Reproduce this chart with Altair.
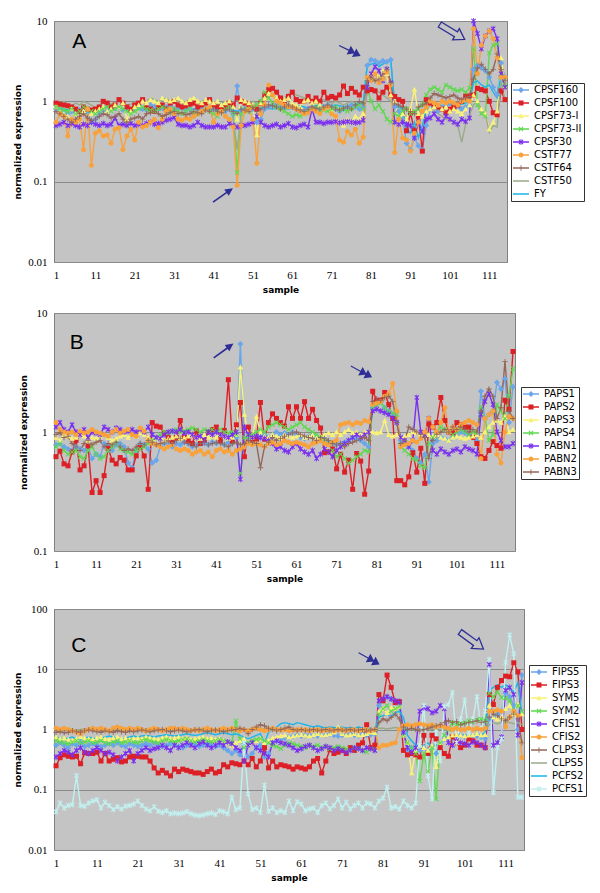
import altair as alt
import pandas as pd

N = 115
samples = list(range(1, N + 1))
x_ticks = list(range(1, N, 10))

# ---------------- Panel A ----------------
a_names = ["CPSF160", "CPSF100", "CPSF73-I", "CPSF73-II", "CPSF30", "CSTF77", "CSTF64", "CSTF50", "FY"]
a_colors = ["#6aa6ea", "#dd1f26", "#f8f27a", "#5fd94f", "#7a2ef0", "#f9a13a", "#94675a", "#99aa88", "#1ab6ea"]
a_markers = ["diamond", "square", "triangle", "xmark", "star", "circle", "plus", "none", "none"]

cpsf160 = [
0.80,0.78,0.72,0.70,0.75,0.72,0.78,0.80,0.74,0.55,
0.60,0.72,0.78,0.75,0.80,0.82,0.85,0.78,0.80,0.75,
0.82,0.85,0.80,0.78,0.90,0.85,0.80,0.82,0.85,0.88,
0.80,0.82,0.85,0.78,0.80,0.65,0.80,0.85,0.82,0.80,
0.80,0.85,0.78,0.75,0.80,0.70,1.55,0.75,0.80,0.85,
0.80,0.55,0.60,0.80,0.85,0.90,0.95,0.90,0.85,0.88,
0.85,0.80,0.78,0.75,0.80,0.85,0.82,0.80,0.85,0.90,
0.85,0.80,0.75,0.80,0.85,0.90,0.85,0.80,0.85,2.8,
3.3,3.2,3.0,3.2,3.1,3.3,0.85,0.75,0.60,0.30,
0.25,0.35,0.28,0.25,0.50,0.80,0.85,0.75,0.85,0.90,
0.95,0.90,0.85,0.80,0.85,0.90,2.5,2.8,2.6,2.4,
2.0,1.5,1.2,3.0,2.0]
cpsf100 = [
0.95,0.92,0.90,0.88,0.85,0.80,0.75,0.85,0.80,0.78,
0.80,0.85,1.00,0.95,0.85,0.90,1.05,0.95,0.85,0.80,
0.90,0.95,1.05,0.85,0.80,0.75,0.85,0.90,0.80,0.95,
1.00,0.90,0.85,0.88,0.92,0.95,0.85,0.90,0.95,1.05,
0.90,0.85,0.80,0.85,0.95,0.90,1.10,1.00,0.95,0.90,
0.85,0.80,0.95,1.20,1.40,1.45,1.30,1.10,1.00,1.15,
1.30,1.05,1.00,1.00,1.15,1.00,1.10,1.00,1.30,1.10,
1.15,1.10,1.20,1.55,1.25,1.45,1.30,1.20,1.50,1.35,
1.40,1.35,1.10,1.30,1.50,1.20,1.15,1.05,1.00,0.43,
0.72,0.43,0.64,0.24,1.05,0.95,0.90,0.85,0.80,0.72,
0.80,0.85,0.90,1.00,1.17,1.17,1.20,1.45,1.40,1.35,
1.00,0.72,0.68,1.35,1.05]
cpsf73i = [
0.85,0.75,0.70,0.65,0.80,0.70,0.60,0.75,0.80,0.70,
0.75,0.80,0.85,0.75,0.80,0.90,0.85,0.95,0.60,0.75,
0.85,0.90,1.00,0.95,1.05,1.00,0.95,1.10,1.05,1.00,
1.05,1.10,1.00,0.95,1.05,1.10,1.00,0.95,1.05,1.00,
0.95,1.00,0.90,0.95,1.00,0.85,0.60,1.05,1.00,0.95,
0.90,0.38,0.95,1.10,1.25,1.20,1.10,1.00,1.05,1.10,
0.95,0.90,0.85,1.00,1.05,0.95,1.00,0.90,0.80,0.85,
0.80,0.60,0.55,0.50,0.60,0.55,0.65,0.60,0.70,2.0,
2.2,2.3,2.0,2.4,2.2,1.2,1.0,0.55,0.70,0.60,
0.80,1.40,0.70,0.65,0.75,0.80,0.85,0.90,0.80,0.85,
0.75,0.80,0.75,0.70,0.80,0.90,1.20,1.00,0.80,0.70,
0.45,0.55,0.75,3.5,1.5]
cpsf73ii = [
0.85,0.80,0.78,0.75,0.80,0.70,0.75,0.85,0.80,0.75,
0.70,0.75,0.80,0.85,0.75,0.80,0.85,0.80,0.75,0.70,
0.75,0.80,0.85,0.80,0.78,0.75,0.80,0.85,0.80,0.75,
0.80,0.75,0.70,0.75,0.80,0.72,0.70,0.75,0.80,0.75,
0.70,0.65,0.75,0.80,0.85,0.70,0.13,0.70,0.80,0.75,
0.85,0.90,1.00,1.30,1.10,0.95,0.85,0.80,0.75,0.70,
0.65,0.68,0.65,0.70,0.75,0.80,0.85,0.80,0.78,0.75,
0.80,0.85,0.78,0.80,0.75,0.80,0.85,0.90,0.80,1.50,
1.00,0.80,0.90,0.75,0.60,0.55,0.70,0.65,0.75,0.80,
0.70,0.75,0.80,0.90,1.20,1.40,1.50,1.40,1.30,1.60,
1.50,1.40,1.35,1.40,1.30,1.45,4.5,0.90,0.70,0.65,
4.0,5.0,5.2,2.0,1.6]
cpsf30 = [
0.50,0.52,0.55,0.50,0.53,0.50,0.48,0.52,0.50,0.55,
0.52,0.50,0.53,0.50,0.52,0.62,0.50,0.52,0.50,0.53,
0.50,0.52,0.50,0.53,0.55,0.52,0.53,0.55,0.58,0.60,
0.63,0.52,0.50,0.50,0.48,0.50,0.55,0.50,0.48,0.48,
0.48,0.50,0.48,0.48,0.53,0.50,0.48,0.50,0.50,0.52,
0.55,0.65,0.55,0.50,0.48,0.50,0.52,0.48,0.50,0.53,
0.48,0.47,0.50,0.52,0.48,0.80,0.55,0.55,0.53,0.55,
0.55,0.56,0.54,0.55,0.56,0.55,0.54,0.55,0.58,1.5,
2.2,2.7,2.4,1.8,2.5,1.7,0.55,0.52,0.55,0.52,
0.50,0.35,0.55,0.42,0.60,0.62,0.70,0.60,0.55,0.65,
0.60,0.55,0.52,0.60,0.56,0.62,10.0,7.0,4.5,6.5,
7.5,8.0,6.0,2.2,1.5]
cstf77 = [
0.55,0.70,0.65,0.37,0.60,0.55,0.60,0.25,0.80,0.16,
0.40,0.43,0.37,0.38,0.30,0.45,0.47,0.25,0.37,0.45,
0.33,0.55,0.48,0.50,0.55,0.60,0.47,0.60,0.75,0.80,
0.70,0.60,0.58,0.62,0.60,0.65,0.70,0.75,0.80,0.85,
0.55,0.70,0.75,0.65,0.60,0.48,0.09,0.50,0.75,0.80,
0.60,0.17,0.70,0.90,1.60,1.20,1.00,0.95,0.90,0.85,
0.85,0.80,0.75,0.70,0.72,0.80,0.75,0.70,0.80,0.85,
0.70,0.65,0.33,0.31,0.42,0.38,0.45,0.30,0.36,2.0,
1.8,2.2,1.7,1.9,2.3,1.6,0.23,0.60,0.35,0.33,
0.24,0.40,0.55,0.75,0.85,1.00,0.95,0.90,1.00,0.95,
1.00,0.95,0.90,1.00,1.05,1.00,8.0,2.2,5.0,6.5,
7.5,6.0,3.5,2.0,2.0]
cstf64 = [
0.75,0.70,0.65,0.60,0.55,0.60,0.65,0.70,0.62,0.58,
0.60,0.65,0.70,0.68,0.62,0.65,0.70,0.60,0.55,0.60,
0.62,0.65,0.60,0.70,0.72,0.75,0.70,0.65,0.68,0.72,
0.75,0.70,0.72,0.68,0.70,0.75,0.72,0.70,0.78,0.75,
0.80,0.75,0.72,0.78,0.80,0.75,0.70,0.80,0.78,0.75,
0.85,0.75,0.80,0.85,0.90,0.88,0.85,0.80,0.85,0.90,
0.85,0.80,0.78,0.75,0.80,0.85,0.82,0.80,0.85,0.90,
0.85,0.80,0.78,0.82,0.85,0.80,0.90,1.00,0.95,1.8,
2.0,1.8,1.9,2.2,2.5,1.7,0.95,0.90,0.85,0.80,
0.75,0.70,0.85,0.90,0.95,1.10,1.25,1.20,1.15,1.10,
1.15,1.20,1.10,1.05,1.10,1.15,1.9,2.6,2.9,2.5,
2.2,2.5,3.9,2.5,1.8]
cstf50 = [
0.90,0.95,1.00,0.92,0.88,0.95,0.90,1.00,0.95,0.90,
0.85,0.90,0.95,1.00,0.92,0.95,1.00,0.95,0.90,0.92,
0.95,1.00,1.05,1.00,1.10,1.05,1.00,1.05,1.10,1.00,
1.05,1.00,0.95,1.00,1.05,1.00,0.95,1.00,1.05,1.00,
0.95,0.90,0.95,1.00,0.85,0.60,0.25,0.70,0.90,0.95,
1.00,0.95,1.05,1.10,1.15,1.20,1.10,1.05,1.10,1.25,
1.30,1.20,1.15,1.10,1.05,1.00,0.95,1.00,1.05,1.00,
0.95,1.00,0.95,0.90,0.95,1.00,0.95,0.90,0.95,1.2,
1.5,1.4,1.3,1.2,1.1,1.0,0.90,0.85,0.80,0.85,
0.80,0.75,0.80,0.70,0.75,0.80,0.75,0.70,0.65,0.60,
0.60,0.55,0.50,0.31,0.52,0.68,0.90,1.00,0.80,0.70,
0.41,0.50,0.48,1.80,1.00]
fy = [
0.80,0.82,0.80,0.78,0.80,0.75,0.78,0.80,0.82,0.80,
0.78,0.80,0.82,0.85,0.88,0.85,0.82,0.80,0.82,0.80,
0.82,0.80,0.78,0.80,0.82,0.85,0.82,0.80,0.82,0.85,
0.82,0.80,0.82,0.80,0.78,0.80,0.82,0.85,0.80,0.82,
0.80,0.78,0.80,0.82,0.80,0.78,0.75,0.80,0.82,0.80,
0.78,0.80,0.82,0.85,0.82,0.80,0.82,0.85,0.82,0.80,
0.82,0.85,0.88,0.85,0.82,0.85,0.88,0.90,0.88,0.85,
0.88,0.90,0.88,0.85,0.88,0.90,0.92,0.95,0.92,2.8,
2.9,3.0,2.7,2.9,3.1,3.2,0.90,0.85,0.80,0.45,
0.40,0.55,0.35,0.50,0.80,0.85,0.90,0.88,0.85,0.90,
0.92,0.90,0.95,0.92,0.95,1.00,1.7,1.8,1.6,1.5,
1.6,1.3,1.1,2.2,2.0]
a_series = [cpsf160, cpsf100, cpsf73i, cpsf73ii, cpsf30, cstf77, cstf64, cstf50, fy]

# ---------------- Panel B ----------------
b_names = ["PAPS1", "PAPS2", "PAPS3", "PAPS4", "PABN1", "PABN2", "PABN3"]
b_colors = ["#6aa6ea", "#dd1f26", "#f8f27a", "#5fd94f", "#7a2ef0", "#f9a13a", "#94675a"]
b_markers = ["diamond", "square", "triangle", "xmark", "star", "circle", "plus"]

paps1 = [
0.78,0.80,0.75,0.72,0.70,0.75,0.72,0.70,0.75,0.60,
0.65,0.62,0.80,0.75,0.70,0.78,0.80,0.75,0.55,0.50,
0.70,0.80,0.78,0.72,0.55,0.58,0.75,0.80,0.78,0.75,
0.80,0.78,0.82,0.80,0.75,0.78,0.82,0.80,0.78,0.82,
0.80,0.85,0.78,0.82,0.80,0.90,5.5,0.75,0.90,0.85,
0.80,0.90,0.95,0.90,0.92,1.00,0.95,0.98,0.95,1.00,
0.95,0.90,0.88,0.92,0.95,0.90,0.85,0.88,0.82,0.80,
0.78,0.80,0.82,0.85,0.90,0.88,0.85,0.80,0.75,1.6,
1.7,1.8,1.6,1.5,1.4,1.2,0.85,0.80,0.75,0.70,
0.60,0.55,0.65,0.38,0.80,0.85,0.90,0.88,0.85,0.90,
0.95,1.00,0.98,0.95,0.90,0.85,2.2,1.30,1.40,1.50,
2.6,2.3,2.8,1.2,2.4]
paps2 = [
0.62,0.69,0.54,0.52,0.68,0.85,0.48,0.52,0.76,0.31,
0.39,0.31,0.43,0.73,0.58,0.54,0.61,0.58,0.48,0.48,
0.63,0.74,0.63,0.33,1.20,1.12,1.10,0.98,0.90,0.85,
0.90,1.25,0.90,0.85,0.80,1.02,0.80,0.85,1.00,1.05,
1.10,0.85,1.03,2.75,0.83,1.15,1.77,0.62,1.10,0.87,
0.87,1.77,0.87,1.20,1.42,1.30,1.20,1.12,1.63,1.30,
1.63,1.30,1.80,1.30,1.55,1.25,1.08,0.67,0.68,0.72,
0.49,0.65,0.46,0.58,0.33,0.66,0.57,0.30,0.47,2.2,
1.85,1.85,2.15,1.70,1.30,0.39,0.39,0.36,0.42,0.67,
0.46,0.73,0.37,1.17,1.10,1.20,1.95,1.25,1.00,0.98,
1.20,1.15,1.10,1.10,0.90,0.80,0.62,0.60,0.70,0.83,
0.77,0.73,1.85,1.55,4.75]
paps3 = [
0.90,0.85,0.95,0.92,0.88,0.90,0.95,0.92,0.85,0.90,
0.88,0.92,0.95,0.90,0.85,0.88,0.92,0.95,0.90,0.95,
0.92,0.98,0.95,0.90,0.85,0.88,0.90,0.85,0.88,0.90,
0.92,0.88,0.90,0.92,0.95,0.90,0.88,0.95,0.90,0.92,
0.90,0.95,0.92,0.88,0.90,0.95,3.5,1.40,0.95,0.90,
1.35,1.00,0.92,0.90,0.95,0.92,0.90,0.95,0.92,0.90,
0.92,0.95,0.90,0.92,0.95,0.90,0.92,0.95,0.98,0.95,
1.00,0.95,1.00,1.05,0.98,1.00,0.95,1.00,1.02,1.00,
0.98,1.00,1.25,0.95,0.92,0.95,0.90,0.92,0.95,1.00,
0.98,0.95,1.00,0.95,0.92,0.95,0.90,0.88,0.85,0.90,
0.92,0.90,0.88,0.90,0.92,0.95,0.90,1.00,1.10,1.20,
1.25,1.20,1.35,1.00,1.05]
paps4 = [
0.75,0.80,0.70,0.65,0.68,0.70,0.62,0.60,0.70,0.75,
0.65,0.60,0.62,0.70,0.75,0.80,0.72,0.70,0.68,0.65,
0.70,0.72,0.75,0.80,0.85,0.90,0.95,1.00,0.98,1.00,
1.05,1.00,1.02,1.05,1.08,1.05,1.00,1.05,1.02,1.05,
1.00,1.05,1.00,0.98,1.00,0.95,0.45,0.90,0.92,0.95,
1.00,1.05,1.00,1.10,1.15,1.20,1.15,1.10,1.05,1.10,
1.15,1.20,1.10,1.05,1.00,0.95,0.90,0.85,0.80,0.70,
0.62,0.65,0.60,0.55,0.58,0.62,0.65,0.70,0.68,1.60,
1.70,1.75,1.60,1.50,1.45,1.40,0.75,0.70,0.65,0.60,
0.58,0.52,0.50,0.80,0.90,1.00,1.10,1.05,1.00,0.95,
1.00,1.05,1.00,0.95,1.00,0.98,1.60,1.30,0.85,0.95,
1.70,1.50,1.30,2.00,3.40]
pabn1 = [
1.10,1.20,1.05,1.00,1.15,1.00,0.95,1.05,0.90,1.00,
0.98,0.95,1.10,1.05,1.00,1.08,1.05,1.00,1.02,1.05,
1.00,1.05,1.00,1.10,0.95,0.90,0.88,0.95,1.00,1.02,
1.00,1.05,0.98,1.00,0.95,0.90,0.92,0.85,1.00,0.95,
1.00,0.95,0.92,0.90,0.95,1.00,0.40,1.10,0.95,0.90,
0.92,0.90,0.88,0.85,0.80,0.72,0.75,0.70,0.68,0.75,
0.80,0.72,0.68,0.65,0.70,0.60,0.65,0.72,0.68,0.62,
0.70,0.75,0.80,0.85,0.90,0.95,0.90,0.95,1.00,1.50,
1.55,1.50,1.45,1.40,1.30,1.20,0.90,0.85,0.75,0.85,
1.95,1.00,0.95,1.30,0.70,0.65,0.72,0.68,0.65,0.70,
0.72,0.68,0.75,0.72,0.70,0.65,1.40,1.80,2.10,1.70,
1.00,0.85,0.75,0.75,0.80]
pabn2 = [
1.20,1.05,1.00,0.98,1.00,0.95,1.02,0.98,1.00,1.05,
1.00,0.98,0.95,0.92,1.00,1.05,0.98,1.02,1.05,0.95,
0.92,1.08,1.02,0.85,0.80,0.78,0.75,0.72,0.75,0.78,
0.72,0.70,0.72,0.70,0.65,0.68,0.70,0.65,0.68,0.62,
0.70,0.72,0.68,0.70,0.65,0.70,0.72,0.75,0.80,0.78,
0.80,0.78,0.75,0.80,0.82,0.78,0.80,0.85,0.82,0.80,
0.82,0.80,0.78,0.75,0.80,0.82,0.85,0.80,0.78,0.82,
0.85,1.15,1.18,1.20,1.15,1.20,1.18,1.25,1.22,1.70,
1.75,1.80,2.00,2.10,2.55,1.50,0.75,0.78,0.80,0.85,
0.82,0.88,1.00,1.30,1.10,1.00,1.20,1.60,1.00,1.10,
1.05,1.15,1.20,1.25,1.20,1.15,0.60,1.30,1.40,1.50,
0.65,0.55,1.00,1.35,1.30]
pabn3 = [
0.95,0.98,0.90,0.92,0.80,0.75,0.70,0.80,0.85,0.78,
0.82,0.85,0.75,0.80,0.78,0.82,0.75,0.70,0.72,0.70,
0.75,0.80,0.78,0.85,0.82,0.78,0.80,0.82,0.85,0.80,
0.85,0.88,0.82,0.80,0.78,0.75,0.80,0.82,0.78,0.80,
0.82,0.80,0.78,0.75,0.80,0.82,0.78,0.80,0.85,0.82,
0.80,0.50,0.75,0.82,0.90,0.85,0.88,0.92,0.95,0.98,
1.00,0.95,0.92,0.90,0.88,0.85,0.90,0.88,0.85,0.80,
0.78,0.80,0.75,0.80,0.82,0.85,0.88,0.90,0.85,1.80,
1.90,1.85,1.95,2.00,1.80,1.20,0.80,0.85,1.10,1.05,
1.00,0.95,0.90,0.60,0.85,0.95,1.00,1.05,1.00,1.10,
1.05,1.10,1.05,1.00,1.05,1.00,1.50,2.00,2.30,2.00,
1.30,1.60,3.90,1.50,1.30]
b_series = [paps1, paps2, paps3, paps4, pabn1, pabn2, pabn3]

# ---------------- Panel C ----------------
c_names = ["FIPS5", "FIPS3", "SYM5", "SYM2", "CFIS1", "CFIS2", "CLPS3", "CLPS5", "PCFS2", "PCFS1"]
c_colors = ["#6aa6ea", "#dd1f26", "#f8f27a", "#5fd94f", "#7a2ef0", "#f9a13a", "#94675a", "#99aa88", "#1ab6ea", "#c2f0f0"]
c_markers = ["diamond", "square", "triangle", "xmark", "star", "circle", "plus", "none", "none", "star"]

fips5 = [
0.55,0.60,0.55,0.50,0.58,0.55,0.60,0.52,0.55,0.58,
0.55,0.52,0.55,0.58,0.55,0.60,0.55,0.52,0.58,0.55,
0.52,0.55,0.58,0.55,0.60,0.55,0.52,0.55,0.58,0.55,
0.52,0.50,0.55,0.58,0.55,0.52,0.55,0.58,0.55,0.52,
0.55,0.50,0.45,0.40,0.45,0.38,0.60,0.35,0.40,0.50,
0.55,0.35,0.40,0.60,0.65,0.70,0.72,0.75,0.78,0.80,
0.78,0.80,0.82,0.80,0.78,0.80,0.82,0.85,0.80,0.78,
0.80,0.82,0.85,0.80,0.78,0.85,0.80,0.82,0.85,2.50,
3.00,3.50,3.20,2.80,3.00,0.90,0.45,0.50,0.40,0.45,
0.50,0.45,0.55,0.40,0.60,0.70,0.75,0.72,0.78,0.80,
0.75,0.72,0.80,0.78,0.75,0.70,1.50,1.60,1.80,2.00,
4.00,3.50,2.50,1.00,8.00]
fips3 = [
0.25,0.34,0.38,0.36,0.35,0.36,0.27,0.41,0.40,0.40,
0.42,0.30,0.40,0.30,0.32,0.34,0.29,0.30,0.35,0.36,
0.36,0.35,0.35,0.30,0.23,0.19,0.21,0.19,0.17,0.22,
0.20,0.22,0.21,0.20,0.19,0.19,0.18,0.20,0.22,0.19,
0.20,0.26,0.24,0.28,0.27,0.26,0.30,0.26,0.33,0.24,
0.30,0.50,0.23,0.30,0.24,0.26,0.25,0.24,0.22,0.24,
0.23,0.22,0.24,0.30,0.33,0.19,0.30,0.46,0.40,0.42,
0.45,0.40,0.50,0.45,0.55,0.60,1.20,0.50,0.55,3.80,
3.00,8.00,5.00,2.80,2.90,0.45,0.38,0.40,0.38,0.35,
0.80,0.40,0.80,0.70,0.50,0.40,0.36,0.75,0.60,0.50,
0.55,0.70,0.65,0.55,0.55,0.50,3.80,2.60,5.00,6.50,
7.70,7.50,12.8,9.00,1.00]
sym5 = [
0.75,0.70,0.72,0.68,0.65,0.70,0.75,0.72,0.70,0.68,
0.72,0.75,0.70,0.68,0.72,0.75,0.70,0.72,0.68,0.70,
0.72,0.70,0.75,0.72,0.70,0.68,0.72,0.75,0.70,0.72,
0.75,0.70,0.72,0.68,0.70,0.72,0.75,0.70,0.72,0.68,
0.70,0.65,0.60,0.55,0.60,0.65,0.70,0.55,0.60,0.65,
0.70,0.60,0.65,0.72,0.75,0.78,0.80,0.75,0.78,0.80,
0.82,0.80,0.78,0.82,0.85,0.80,0.82,0.85,0.90,1.10,
0.85,0.80,0.82,0.85,0.80,0.82,0.85,0.90,0.88,2.00,
2.20,1.90,2.30,2.20,2.40,0.80,0.60,0.19,0.45,0.55,
0.50,0.45,0.55,0.24,0.60,0.70,0.75,0.80,0.82,0.80,
0.78,0.80,0.82,0.85,0.80,0.82,2.50,1.60,1.50,1.60,
2.20,2.50,1.80,2.60,1.80]
sym2 = [
0.65,0.62,0.60,0.58,0.62,0.65,0.60,0.62,0.65,0.60,
0.62,0.65,0.60,0.58,0.62,0.65,0.60,0.62,0.65,0.62,
0.60,0.65,0.68,0.65,0.62,0.60,0.65,0.68,0.65,0.62,
0.65,0.68,0.70,0.65,0.62,0.65,0.68,0.65,0.62,0.65,
0.68,0.65,0.62,0.60,1.40,0.70,0.50,0.60,0.65,0.68,
0.70,0.65,0.60,0.55,0.52,0.48,0.55,0.60,0.58,0.55,
0.52,0.50,0.55,0.52,0.55,0.50,0.52,0.48,0.50,0.52,
0.50,0.48,0.45,0.50,0.48,0.45,0.42,0.48,0.45,1.80,
2.20,2.50,2.00,2.20,2.40,0.80,0.60,0.50,0.40,0.14,
0.40,0.20,0.50,0.07,0.60,0.80,1.00,1.30,1.20,1.25,
1.30,1.40,1.35,1.45,1.50,1.40,4.00,3.50,4.20,3.40,
3.30,3.00,2.00,2.50,2.00]
cfis1 = [
0.35,0.40,0.45,0.42,0.38,0.45,0.50,0.42,0.40,0.45,
0.50,0.45,0.40,0.42,0.38,0.30,0.35,0.40,0.45,0.30,
0.40,0.45,0.50,0.45,0.48,0.50,0.55,0.50,0.45,0.55,
0.50,0.55,0.60,0.55,0.50,0.58,0.62,0.55,0.50,0.55,
0.60,0.55,0.62,0.58,0.50,0.45,0.30,0.55,0.60,0.50,
0.45,0.40,0.35,0.60,0.65,0.60,0.58,0.55,0.50,0.45,
0.48,0.52,0.55,0.50,0.45,0.48,0.52,0.50,0.45,0.48,
0.45,0.42,0.45,0.50,0.48,0.45,0.50,0.48,0.45,3.00,
3.20,3.50,3.20,3.00,2.80,0.90,0.50,0.42,0.50,2.00,
2.30,2.20,1.90,2.00,2.50,2.20,0.60,0.55,0.65,0.60,
0.58,0.55,0.62,0.60,0.55,0.50,12.0,0.55,0.60,0.75,
4.50,5.00,3.80,0.80,6.00]
cfis2 = [
1.05,1.00,1.05,1.00,0.95,0.90,0.85,0.95,1.00,1.05,
1.00,1.05,1.00,0.95,1.05,1.10,1.05,1.00,1.05,1.00,
1.05,1.00,0.95,1.00,1.05,1.00,0.95,1.00,1.05,1.05,
1.00,1.05,1.00,0.95,1.00,0.95,1.00,1.05,1.00,0.95,
1.00,1.05,1.00,1.05,1.00,0.95,1.00,0.95,1.00,1.05,
1.00,0.95,1.00,1.05,1.00,0.98,1.00,0.95,0.98,1.00,
0.98,1.00,0.95,0.98,1.00,0.95,0.98,1.00,0.95,0.98,
1.00,0.95,0.98,1.00,0.95,0.98,1.00,0.95,1.00,0.50,
0.55,0.55,0.58,0.60,1.00,1.15,1.20,1.15,1.20,1.25,
1.20,1.15,1.20,1.10,1.15,1.10,1.05,1.00,1.05,1.00,
1.00,1.05,1.00,1.05,1.00,1.05,2.00,2.00,2.10,2.00,
1.10,1.60,2.00,1.70,0.34]
clps3 = [
0.90,0.92,0.88,0.90,0.95,0.92,0.90,0.95,0.98,0.95,
0.92,0.90,0.95,0.92,0.90,0.95,0.92,0.90,0.95,0.92,
0.95,0.98,0.95,0.92,0.95,0.98,1.00,0.95,0.92,0.95,
0.98,0.95,0.92,0.95,0.98,1.00,0.95,0.92,0.95,0.98,
0.95,0.92,0.95,0.98,1.00,1.05,1.00,0.85,1.00,1.10,
1.20,1.15,1.05,1.00,0.95,1.00,1.05,1.10,1.00,0.95,
1.00,0.95,0.98,1.00,0.95,0.98,1.00,0.95,0.98,1.00,
0.95,0.98,1.00,0.95,0.98,1.00,0.95,0.98,1.00,1.30,
1.50,1.40,1.60,1.80,1.50,1.10,1.00,1.05,1.00,0.95,
1.00,1.05,1.10,1.15,1.20,1.30,1.40,1.30,1.35,1.20,
1.25,1.30,1.35,1.40,1.30,1.35,1.60,1.80,1.70,1.50,
1.40,1.60,1.80,1.50,0.60]
clps5 = [
1.00,0.98,1.00,1.02,1.00,0.98,1.00,1.02,1.00,0.98,
1.00,1.02,1.00,0.98,1.00,1.02,1.00,0.98,1.00,1.02,
1.00,0.98,1.00,1.02,1.00,0.98,1.00,1.02,1.00,0.98,
1.00,1.02,1.00,0.98,1.00,1.02,1.00,0.98,1.00,1.02,
1.00,0.98,1.00,1.02,1.00,0.98,1.00,1.02,1.00,0.98,
1.00,1.02,1.00,0.98,1.00,1.02,1.00,0.98,1.00,1.02,
1.00,0.98,1.00,1.02,1.00,0.98,1.00,1.02,1.00,0.98,
1.00,1.02,1.00,0.98,1.00,1.02,1.00,0.98,1.00,1.05,
1.05,1.02,1.05,1.08,1.05,1.02,1.00,0.98,1.00,1.02,
1.00,0.98,1.00,1.02,1.00,0.98,1.00,1.02,1.00,0.98,
1.00,1.02,1.00,0.98,1.00,1.02,1.20,1.30,1.25,1.30,
1.35,1.30,1.25,1.30,1.20]
pcfs2 = [
0.75,0.72,0.70,0.72,0.75,0.70,0.68,0.72,0.75,0.72,
0.70,0.72,0.75,0.78,0.75,0.72,0.70,0.72,0.75,0.78,
0.75,0.78,0.80,0.78,0.75,0.78,0.80,0.82,0.80,0.78,
0.80,0.82,0.85,0.82,0.80,0.82,0.85,0.88,0.85,0.82,
0.85,0.88,0.85,0.82,0.85,0.80,0.75,0.70,0.75,0.80,
0.85,0.60,0.90,1.00,1.10,1.25,1.30,1.25,1.20,1.30,
1.25,1.20,1.15,1.10,1.15,1.10,1.05,1.10,1.08,1.05,
1.10,1.05,1.08,1.05,1.10,1.05,1.00,1.05,1.00,1.60,
1.70,1.80,1.65,1.90,2.00,1.60,0.80,0.65,0.55,0.50,
0.55,0.60,0.50,0.55,0.60,0.70,0.75,0.72,0.78,0.80,
0.82,0.80,0.78,0.85,0.80,0.90,4.50,5.00,5.50,5.00,
5.50,4.80,4.20,6.00,1.80]
pcfs1 = [
0.043,0.060,0.050,0.055,0.057,0.17,0.055,0.053,0.060,0.065,
0.068,0.050,0.062,0.055,0.047,0.052,0.048,0.053,0.055,0.058,
0.065,0.055,0.048,0.045,0.052,0.044,0.042,0.045,0.040,0.041,
0.040,0.041,0.043,0.040,0.038,0.037,0.038,0.040,0.041,0.039,
0.045,0.043,0.040,0.075,0.047,0.050,0.60,0.085,0.047,0.050,
0.042,0.12,0.044,0.050,0.042,0.045,0.042,0.065,0.045,0.063,
0.058,0.045,0.048,0.050,0.042,0.055,0.060,0.048,0.055,0.070,
0.050,0.062,0.048,0.055,0.060,0.050,0.060,0.058,0.050,0.065,
0.072,0.11,0.050,0.052,0.048,0.065,0.055,0.050,0.060,0.55,
2.50,0.17,0.07,1.00,0.30,2.40,2.60,4.10,0.60,1.50,
3.10,0.90,1.50,3.50,1.00,2.00,14.5,0.09,0.50,0.70,
13.0,37.0,18.0,0.075,0.075]
c_series = [fips5, fips3, sym5, sym2, cfis1, cfis2, clps3, clps5, pcfs2, pcfs1]

# annotations: panel letter (text, sample, value) and arrows (sample, value, angle, kind)
a_letter = ("A", 6.9, 5.4)
b_letter = ("B", 6.2, 5.6)
c_letter = ("C", 6.6, 24.0)
a_arrows = [(43.4, 0.068, 325, "single"), (75.6, 4.27, 26, "double"), (101.6, 7.3, 31, "open")]
b_arrows = [(42.8, 4.82, 324, "single"), (77.2, 3.21, 28, "double")]
c_arrows = [(77.6, 15.0, 29, "double"), (102.7, 30.0, 36, "open")]

# ---------------- styling ----------------
MARKER_PATHS = {
    "diamond": "M0,-0.6L0.6,0L0,0.6L-0.6,0Z",
    "square": "M-0.5,-0.5H0.5V0.5H-0.5Z",
    "triangle": "M0,-0.55L0.55,0.45H-0.55Z",
    "xmark": "M-0.5,-0.35L-0.35,-0.5L0,-0.15L0.35,-0.5L0.5,-0.35L0.15,0L0.5,0.35L0.35,0.5L0,0.15L-0.35,0.5L-0.5,0.35L-0.15,0Z",
    "star": "M-0.5,-0.35L-0.35,-0.5L0,-0.15L0.35,-0.5L0.5,-0.35L0.15,0L0.5,0.35L0.35,0.5L0,0.15L-0.35,0.5L-0.5,0.35L-0.15,0Z M-0.08,-0.6H0.08V0.6H-0.08Z",
    "circle": "M-0.5,0A0.5,0.5 0 1,1 0.5,0A0.5,0.5 0 1,1 -0.5,0Z",
    "plus": "M-0.09,-0.55H0.09V-0.09H0.55V0.09H0.09V0.55H-0.09V0.09H-0.55V-0.09H-0.09Z",
    "none": "",
}
LEGEND_LINE = "M-1.6,-0.15H1.6V0.15H-1.6Z"
ARROW_PATHS = {
    "single": "M-1,-0.07L0.35,-0.07L0.35,-0.32L1,0L0.35,0.32L0.35,0.07L-1,0.07Z",
    "double": "M-1,-0.05H-0.1V0.05H-1Z M-0.1,-0.4L0.5,0L-0.1,0.4Z M0.4,-0.4L1,0L0.4,0.4Z",
    "open": "M-1,-0.2H0.3V-0.45L1,0L0.3,0.45V0.2H-1Z",
}
ARROW_SIZE = {"single": 595, "double": 576, "open": 841}
NAVY = "#2e2e96"
SANS = "DejaVu Sans"


def long_df(names, series):
    rows = []
    for name, vals in zip(names, series):
        assert len(vals) == N, (name, len(vals))
        for s, v in zip(samples, vals):
            rows.append({"sample": s, "value": v, "series": name})
    return pd.DataFrame(rows)


def panel(names, colors, markers, series, w, h, ydom, yvals, lx, ly, letter, arrows):
    df = long_df(names, series)
    x = alt.X("sample:Q", scale=alt.Scale(domain=[0.5, N + 0.5], nice=False, zero=False),
              axis=alt.Axis(values=x_ticks, title="sample", grid=False, ticks=False, domain=False,
                            labelFont="Liberation Serif", labelFontSize=11, labelColor="black",
                            labelPadding=7, titleFont=SANS, titleFontSize=9, titleFontWeight="bold",
                            titleColor="black", titlePadding=5, labelFlush=False))
    y = alt.Y("value:Q", scale=alt.Scale(type="log", domain=ydom, nice=False),
              axis=alt.Axis(values=yvals, format="~g", title="normalized expression", grid=True,
                            gridColor="#8a8a8a", gridWidth=1, ticks=False, domain=False,
                            labelFont="Liberation Serif", labelFontSize=11, labelColor="black",
                            labelPadding=7, titleFont=SANS, titleFontSize=9, titleFontWeight="bold",
                            titleColor="black", titlePadding=5))
    cscale = alt.Scale(domain=names, range=colors)
    color_noleg = alt.Color("series:N", scale=cscale, legend=None)
    leg = alt.Legend(orient="none", legendX=lx, legendY=ly, title=None, symbolSize=100,
                     symbolStrokeWidth=0, symbolOffset=3, labelFont=SANS, labelFontSize=10,
                     labelColor="black", labelOffset=8, rowPadding=3, padding=2,
                     strokeColor="#333333", fillColor="white")
    # legend carrier first (hidden: outside the x domain and clipped) so its legend wins the merge
    legdf = pd.DataFrame({"sample": [-20] * len(names), "value": [1] * len(names), "series": names})
    layers = [alt.Chart(legdf).mark_point(filled=True, size=100, opacity=1, clip=True, strokeWidth=0)
              .encode(x=x, y=y,
                      color=alt.Color("series:N", scale=cscale, legend=leg),
                      shape=alt.Shape("series:N",
                                      scale=alt.Scale(domain=names,
                                                      range=[LEGEND_LINE + " " + MARKER_PATHS[m] for m in markers]),
                                      legend=leg))]
    layers.append(alt.Chart(df).mark_line(strokeWidth=1.4).encode(x=x, y=y, color=color_noleg))
    for m in ["diamond", "square", "triangle", "xmark", "star", "circle", "plus"]:
        group = [n for n, mm in zip(names, markers) if mm == m]
        if not group:
            continue
        layers.append(alt.Chart(df)
                      .transform_filter(alt.FieldOneOfPredicate(field="series", oneOf=group))
                      .mark_point(shape=MARKER_PATHS[m], filled=True, size=100, opacity=1, strokeWidth=0)
                      .encode(x=x, y=y, color=color_noleg))
    ldf = pd.DataFrame({"sample": [letter[1]], "value": [letter[2]], "t": [letter[0]]})
    layers.append(alt.Chart(ldf).mark_text(font="Liberation Sans", fontSize=21, color="black").encode(
        x=x, y=y, text="t:N"))
    adf = pd.DataFrame(arrows, columns=["sample", "value", "angle", "kind"])
    for kind in ["single", "double", "open"]:
        sub = adf[adf["kind"] == kind]
        if len(sub) == 0:
            continue
        if kind == "open":
            mk = alt.Chart(sub).mark_point(shape=ARROW_PATHS[kind], size=ARROW_SIZE[kind], filled=False,
                                           color=NAVY, opacity=1, strokeWidth=1.3)
        else:
            mk = alt.Chart(sub).mark_point(shape=ARROW_PATHS[kind], size=ARROW_SIZE[kind], filled=True,
                                           color=NAVY, opacity=1, strokeWidth=0)
        layers.append(mk.encode(x=x, y=y, angle=alt.Angle("angle:Q", scale=None)))
    return alt.layer(*layers).properties(width=w, height=h)


pa = panel(a_names, a_colors, a_markers, a_series, 453, 241, [0.01, 10], [0.01, 0.1, 1, 10], 457, 62, a_letter, a_arrows)
pb = panel(b_names, b_colors, b_markers, b_series, 461, 238, [0.1, 10], [0.1, 1, 10], 467, 74, b_letter, b_arrows)
pc = panel(c_names, c_colors, c_markers, c_series, 470, 241, [0.01, 100], [0.01, 0.1, 1, 10, 100], 475, 56, c_letter, c_arrows)

top = alt.vconcat(pa, pb, spacing=11).resolve_scale(color="independent", shape="independent")
chart = (alt.vconcat(top, pc, spacing=18)
         .resolve_scale(color="independent", shape="independent")
         .properties(padding={"left": 5, "top": 6, "right": 5, "bottom": 5})
         .configure_view(fill="#c4c4c4", stroke="#808080", strokeWidth=1))

chart.save("out.html", embed_options={"renderer": "svg", "actions": False})
